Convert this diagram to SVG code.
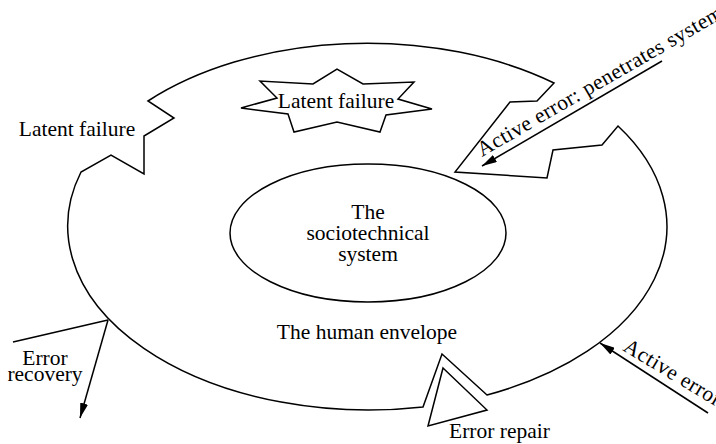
<svg xmlns="http://www.w3.org/2000/svg" width="716" height="444" viewBox="0 0 716 444">
<style>
.ln{fill:none;stroke:#000;stroke-width:1.5;stroke-linejoin:miter}
.sh{fill:#fff;stroke:#000;stroke-width:1.5}
.t{font-family:"Liberation Serif","Times New Roman",serif;font-size:21.5px;fill:#000}
.m{text-anchor:middle}
</style>
<defs>
<marker id="ah" viewBox="0 0 15 8" refX="15" refY="4" markerWidth="15" markerHeight="8" markerUnits="userSpaceOnUse" orient="auto">
<path d="M0,0 L15,4 L0,8 z" fill="#000"/>
</marker>
</defs>
<rect width="716" height="444" fill="#fff"/>
<g id="human-envelope">
<path class="ln" d="M148,101 A301,184 0 0 1 554,83 L537,101 L510,102 L455,172 L547,178 L553,150 L602,145 L618,126 A301,184 0 0 1 487,395 L442,354 L423,407 A301,184 0 0 1 81,172 L111,155 L144,174 L144,136 L174,118 Z"/>
<text class="t m" x="367" y="339">The human envelope</text>
</g>
<g id="sociotechnical-system">
<ellipse class="ln" cx="368" cy="233" rx="138" ry="69"/>
<text class="t m" x="368" y="219">The</text>
<text class="t m" x="368" y="240">sociotechnical</text>
<text class="t m" x="368" y="261">system</text>
</g>
<g id="latent-failure-star">
<polygon class="sh" points="241,108 277,98 260,81 313,84 337,69 363,84 414,82 398,99 432,109 386,115 380,132 337,122 294,132 288,114"/>
<text class="t m" x="336" y="108">Latent failure</text>
</g>
<g id="latent-failure-label">
<text class="t m" x="77" y="136">Latent failure</text>
</g>
<g id="error-repair">
<polygon class="sh" points="443,368 487,410 428,426"/>
<text class="t" x="449" y="438">Error repair</text>
</g>
<g id="error-recovery">
<text class="t m" x="45" y="365">Error</text>
<text class="t m" x="45" y="381">recovery</text>
</g>
<g id="active-error-penetrates">
<text class="t" transform="translate(482,157) rotate(-30)" textLength="280">Active error: penetrates system</text>
</g>
<g id="active-error">
<text class="t" transform="translate(622,350) rotate(31)" textLength="110">Active error</text>
</g>
<g id="connectors">
<line class="ln" x1="13" y1="342" x2="108" y2="320"/>
<line class="ln" x1="108" y1="320" x2="80" y2="418" marker-end="url(#ah)"/>
<line class="ln" x1="662" y1="61" x2="482" y2="166" marker-end="url(#ah)"/>
<line class="ln" x1="708" y1="413" x2="600" y2="343" marker-end="url(#ah)"/>
</g>
</svg>
